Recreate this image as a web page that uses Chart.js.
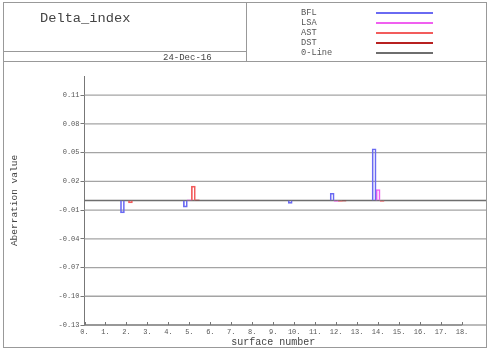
<!DOCTYPE html>
<html>
<head>
<meta charset="utf-8">
<script src="https://cdn.jsdelivr.net/npm/chart.js@4/dist/chart.umd.min.js"></script>
<style>
  html, body { margin: 0; padding: 0; background: #fff; }
  #wrap { position: relative; width: 491px; height: 352px; overflow: hidden; font-family: "Liberation Mono", "DejaVu Sans Mono", monospace; color: #444; }
  #c { position: absolute; left: 0; top: 0; }
  .ln { position: absolute; background: #999; }
  .txt { position: absolute; white-space: nowrap; }
</style>
</head>
<body>
<div id="wrap">
  <canvas id="c" width="491" height="352"></canvas>
  <div class="ln" style="left:3px;top:2px;width:483px;height:1px;"></div>
  <div class="ln" style="left:3px;top:347px;width:483px;height:1px;"></div>
  <div class="ln" style="left:3px;top:2px;width:1px;height:346px;"></div>
  <div class="ln" style="left:486px;top:2px;width:1px;height:346px;"></div>
  <div class="ln" style="left:3px;top:61px;width:483px;height:1px;"></div>
  <div class="ln" style="left:246px;top:2px;width:1px;height:60px;"></div>
  <div class="ln" style="left:3px;top:51px;width:243px;height:1px;"></div>
  <div class="txt" id="title" style="left:40px;top:12px;font-size:13.7px;line-height:13.7px;"></div>
  <div class="txt" id="date" style="left:163px;top:54px;font-size:9px;line-height:9px;"></div>
  <div id="legend"></div>
</div>
<script>
// ---- data ----
const chartTitle = "Delta_index";
const chartDate = "24-Dec-16";
const surfaces = [2, 5, 10, 12, 14];
const seriesNames = ["BFL", "LSA", "AST", "DST"];
const BFL = [-0.013, -0.007, -0.003, 0.0076, 0.054];
const LSA = [null, 0.0006, null, -0.001, 0.0115];
const AST = [-0.0025, 0.015, null, -0.001, -0.001];
const DST = [null, 0.0006, null, -0.0006, null];
const xTicks = [0,1,2,3,4,5,6,7,8,9,10,11,12,13,14,15,16,17,18];
const yTicks = [-0.13, -0.10, -0.07, -0.04, -0.01, 0.02, 0.05, 0.08, 0.11];
const zeroLineName = "0-Line";

// ---- styles ----
const seriesColors = ["#6a6af2", "#f060f0", "#f25c5c", "#b82020"];
const zeroColor = "#6e6e6e";
const gridColor = "#a4a4a4";
const axisColor = "#777";

document.getElementById('title').textContent = chartTitle;
document.getElementById('date').textContent = chartDate;

const seriesData = [BFL, LSA, AST, DST];
const legendEl = document.getElementById('legend');
const legendItems = seriesNames.map((n, i) => ({ name: n, color: seriesColors[i] }));
legendItems.push({ name: zeroLineName, color: zeroColor });
legendItems.forEach((it, i) => {
  const t = document.createElement('div');
  t.className = 'txt';
  t.textContent = it.name;
  t.style.cssText = 'left:301px;top:' + (9.2 + 9.85 * i) + 'px;font-size:8.7px;line-height:8.7px;color:#555;';
  legendEl.appendChild(t);
  const l = document.createElement('div');
  l.className = 'ln';
  l.style.cssText = 'left:376px;top:' + (12 + 10 * i) + 'px;width:57px;height:1.5px;background:' + it.color + ';';
  legendEl.appendChild(l);
});

const datasets = [{
  label: '',
  data: surfaces.map(s => ({ x: s, y: null })),
  backgroundColor: 'rgba(0,0,0,0)',
  borderWidth: 0
}];
seriesNames.forEach((n, i) => {
  datasets.push({
    label: n,
    data: surfaces.map((s, j) => ({ x: s, y: seriesData[i][j] })),
    backgroundColor: 'rgba(0,0,0,0)',
    borderColor: seriesColors[i],
    borderWidth: 1,
    barThickness: 4
  });
});
datasets[0].barThickness = 4;

const overlay = {
  id: 'overlay',
  beforeDatasetsDraw(chart) {
    const { ctx, chartArea, scales } = chart;
    const y = scales.y, x = scales.x;
    const right = 486;
    ctx.save();
    ctx.strokeStyle = gridColor;
    ctx.lineWidth = 1.3;
    yTicks.forEach(v => {
      const py = y.getPixelForValue(v);
      ctx.beginPath();
      ctx.moveTo(chartArea.left, py);
      ctx.lineTo(right, py);
      ctx.stroke();
    });
    ctx.strokeStyle = zeroColor;
    ctx.lineWidth = 1.5;
    const pz = y.getPixelForValue(0);
    ctx.beginPath();
    ctx.moveTo(chartArea.left, pz);
    ctx.lineTo(right, pz);
    ctx.stroke();
    ctx.restore();
  },
  afterDraw(chart) {
    const { ctx, chartArea, scales } = chart;
    const x = scales.x;
    ctx.save();
    ctx.strokeStyle = axisColor;
    ctx.lineWidth = 1;
    xTicks.forEach(v => {
      const px = Math.round(x.getPixelForValue(v)) + 0.5;
      ctx.beginPath();
      ctx.moveTo(px, chartArea.bottom);
      ctx.lineTo(px, chartArea.bottom - 3);
      ctx.stroke();
    });
    ctx.beginPath();
    ctx.moveTo(chartArea.left, chartArea.bottom);
    ctx.lineTo(x.getPixelForValue(xTicks[xTicks.length - 1]), chartArea.bottom);
    ctx.stroke();
    ctx.restore();
  }
};

new Chart(document.getElementById('c'), {
  type: 'bar',
  data: { datasets },
  plugins: [overlay],
  options: {
    responsive: false,
    animation: false,
    layout: { padding: { left: 0, top: 76, right: 29, bottom: 0 } },
    plugins: { legend: { display: false }, title: { display: false }, tooltip: { enabled: false } },
    scales: {
      x: {
        type: 'linear',
        min: 0, max: 18,
        offset: false,
        grid: { display: false, drawTicks: false, offset: false },
        border: { display: false },
        afterBuildTicks: s => { s.ticks = xTicks.map(v => ({ value: v })); },
        afterFit: s => { s.height = 27; },
        ticks: {
          autoSkip: false, maxRotation: 0, padding: 3,
          color: '#555',
          font: { family: 'Liberation Mono', size: 7 },
          callback: v => v + '.'
        },
        title: {
          display: true, text: 'surface number', color: '#444',
          font: { family: 'Liberation Mono', size: 10 },
          padding: { top: 0, bottom: 3.3 }
        }
      },
      y: {
        min: -0.13, max: 0.13,
        grid: { drawOnChartArea: false, drawTicks: true, tickLength: 4, color: axisColor },
        border: { display: true, color: axisColor },
        afterBuildTicks: s => { s.ticks = yTicks.map(v => ({ value: v })); },
        afterFit: s => { s.width = 84.5; },
        ticks: {
          autoSkip: false, padding: 1, color: '#555',
          font: { family: 'Liberation Mono', size: 7 },
          callback: v => v.toFixed(2)
        },
        title: {
          display: true, text: 'Aberration value', color: '#444',
          font: { family: 'Liberation Mono', size: 9.5 },
          padding: { top: 8.3, bottom: 0 }
        }
      }
    }
  }
});
</script>
</body>
</html>
